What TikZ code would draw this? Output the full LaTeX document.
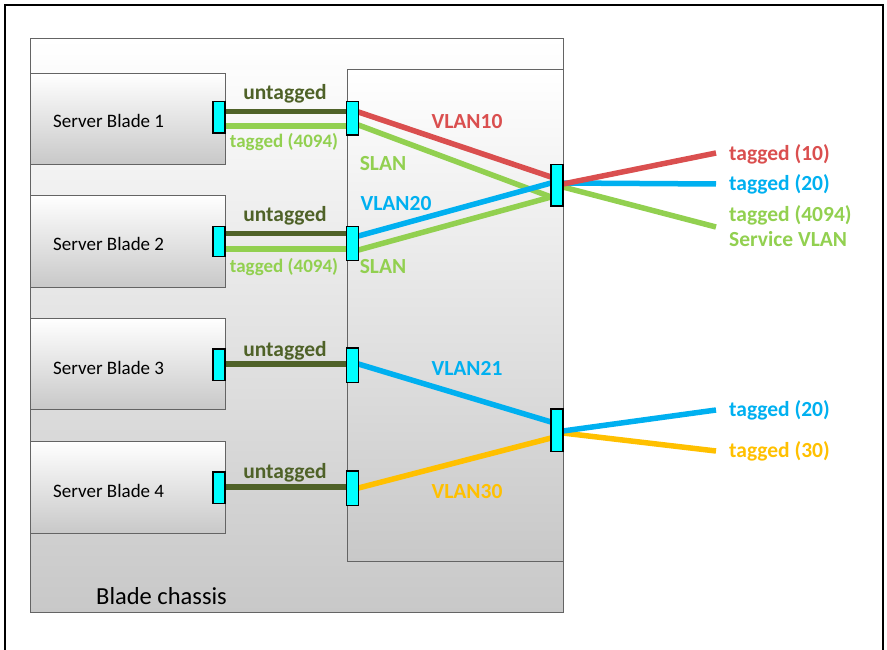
\documentclass[tikz,border=0pt]{standalone}
\usepackage{fontspec}
\setmainfont{Carlito}
\usetikzlibrary{calc}

\definecolor{untag}{HTML}{4F6228}
\definecolor{slan}{HTML}{92D050}
\definecolor{vred}{HTML}{DA4F4F}
\definecolor{vblue}{HTML}{00B0F0}
\definecolor{vyellow}{HTML}{FFC000}
\definecolor{boxgray}{HTML}{C8C8C8}
\definecolor{edgegray}{HTML}{646464}
\definecolor{portcyan}{HTML}{00FFFF}

\tikzset{
  shadedbox/.style={draw=edgegray, line width=1.2pt, top color=white, bottom color=boxgray,
                    inner sep=0pt, anchor=north west},
  port/.style={draw=black, line width=1.3pt, fill=portcyan, minimum width=10.5pt, inner sep=0pt},
  link/.style={line width=5.5pt},
  lbl/.style={inner sep=0pt, font=\fontsize{21.5}{24}\selectfont\bfseries},
  smalllbl/.style={inner sep=0pt, font=\fontsize{19}{22}\selectfont},
}

\begin{document}
\begin{tikzpicture}[x=1pt, y=-1pt]
  \useasboundingbox (0,0) rectangle (887,650);

  % outer frame (open at the bottom)
  \draw[line width=2pt] (5,650) -- (5,5) -- (883,5) -- (883,650);

  % chassis, switch module and blades
  \node[shadedbox, minimum width=533pt, minimum height=574pt] (chassis) at (30,38) {};
  \node[shadedbox, minimum width=216pt, minimum height=492pt] (switch) at (347,69) {};
  \node[shadedbox, minimum width=195pt, minimum height=91pt] (blade1) at (30,73) {};
  \node[shadedbox, minimum width=195pt, minimum height=92pt] (blade2) at (30,195) {};
  \node[shadedbox, minimum width=195pt, minimum height=91pt] (blade3) at (30,318) {};
  \node[shadedbox, minimum width=195pt, minimum height=92pt] (blade4) at (30,441) {};

  % ports (placed first so the links can refer to them, redrawn on top later)
  \path
    (219,117.5) node[port, minimum height=30pt] (bp1) {}
    (219,241.5) node[port, minimum height=28pt] (bp2) {}
    (219,364.5) node[port, minimum height=30pt] (bp3) {}
    (219,487.5) node[port, minimum height=30pt] (bp4) {}
    (352.5,118.5) node[port, minimum height=32pt] (sp1) {}
    (352.5,243.5) node[port, minimum height=32pt] (sp2) {}
    (352.5,365) node[port, minimum height=33pt] (sp3) {}
    (352.5,488) node[port, minimum height=33pt] (sp4) {}
    (557,185.5) node[port, minimum height=40pt] (u1) {}
    (557,430) node[port, minimum height=41pt] (u2) {};

  % free ends of the uplinks
  \coordinate (e10) at (716,153);
  \coordinate (e20a) at (716,184);
  \coordinate (e4094) at (716,227);
  \coordinate (e20b) at (716,410);
  \coordinate (e30) at (716,451);

  % blade to switch links
  \draw[link, untag] (bp1.east |- 0,111.5) -- (sp1.west |- 0,111.5);
  \draw[link, slan]  (bp1.east |- 0,126) -- (sp1.west |- 0,126);
  \draw[link, untag] (bp2.east |- 0,233.5) -- (sp2.west |- 0,233.5);
  \draw[link, slan]  (bp2.east |- 0,249) -- (sp2.west |- 0,249);
  \draw[link, untag] (bp3.east |- 0,364) -- (sp3.west |- 0,364);
  \draw[link, untag] (bp4.east |- 0,487) -- (sp4.west |- 0,487);

  % internal switching
  \draw[link, slan]  (sp1.east |- 0,125) -- (u1.west |- 0,197);
  \draw[link, slan]  (sp2.east |- 0,250) -- (u1.west |- 0,197);
  \draw[link, vblue] (sp2.east |- 0,236) -- (u1.west |- 0,183);
  \draw[link, vred]  (sp1.east |- 0,112) -- (u1.west |- 0,177);
  \draw[link, vblue] (sp3.east |- 0,364) -- (u2.west |- 0,422);
  \draw[link, vyellow] (sp4.east |- 0,488) -- (u2.west |- 0,438);

  % uplinks
  \draw[link, slan]  (u1.east |- 0,187) -- (e4094);
  \draw[link, vblue] (u1.east |- 0,183) -- (e20a);
  \draw[link, vred]  (u1.east |- 0,184) -- (e10);
  \draw[link, vyellow] (u2.east |- 0,433) -- (e30);
  \draw[link, vblue] (u2.east |- 0,431) -- (e20b);

  % ports on top of the link ends
  \foreach \p in {bp1,bp2,bp3,bp4,sp1,sp2,sp3,sp4,u1,u2}
    \draw[line width=1.3pt, fill=portcyan] (\p.south west) rectangle (\p.north east);

  % blade names
  \node[smalllbl, anchor=base west] (n1) at (53,128) {Server Blade 1};
  \node[smalllbl, anchor=base west] (n2) at (53,251) {Server Blade 2};
  \node[smalllbl, anchor=base west] (n3) at (53,374) {Server Blade 3};
  \node[smalllbl, anchor=base west] (n4) at (53,497) {Server Blade 4};
  \node[inner sep=0pt, font=\fontsize{24.5}{28}\selectfont, anchor=base west] (cname) at (96,604) {Blade chassis};

  % link labels
  \node[lbl, text=untag, anchor=base] (ut1) at (285,100) {untagged};
  \node[lbl, text=untag, anchor=base] (ut2) at (285,222) {untagged};
  \node[lbl, text=untag, anchor=base] (ut3) at (285,356) {untagged};
  \node[lbl, text=untag, anchor=base] (ut4) at (285,478) {untagged};
  \node[smalllbl, font=\fontsize{19}{22}\selectfont\bfseries, text=slan, anchor=base] (tg1) at (284,148) {tagged (4094)};
  \node[smalllbl, font=\fontsize{19}{22}\selectfont\bfseries, text=slan, anchor=base] (tg2) at (284,272) {tagged (4094)};

  \node[lbl, text=slan, anchor=base] (sl1) at (383,171) {SLAN};
  \node[lbl, text=slan, anchor=base] (sl2) at (383,273) {SLAN};
  \node[lbl, text=vred, anchor=base] (v10) at (467,129) {VLAN10};
  \node[lbl, text=vblue, anchor=base] (v20) at (396,211) {VLAN20};
  \node[lbl, text=vblue, anchor=base] (v21) at (467,375) {VLAN21};
  \node[lbl, text=vyellow, anchor=base] (v30) at (467,498) {VLAN30};

  % uplink labels
  \node[lbl, text=vred, anchor=base west] (o10) at (729,161) {tagged (10)};
  \node[lbl, text=vblue, anchor=base west] (o20a) at (729,191) {tagged (20)};
  \node[lbl, text=slan, anchor=base west] (o4094) at (729,222) {tagged (4094)};
  \node[lbl, text=slan, anchor=base west] (osv) at (729,247) {Service VLAN};
  \node[lbl, text=vblue, anchor=base west] (o20b) at (729,416) {tagged (20)};
  \node[lbl, text=vyellow, anchor=base west] (o30) at (729,457) {tagged (30)};
\end{tikzpicture}
\end{document}
